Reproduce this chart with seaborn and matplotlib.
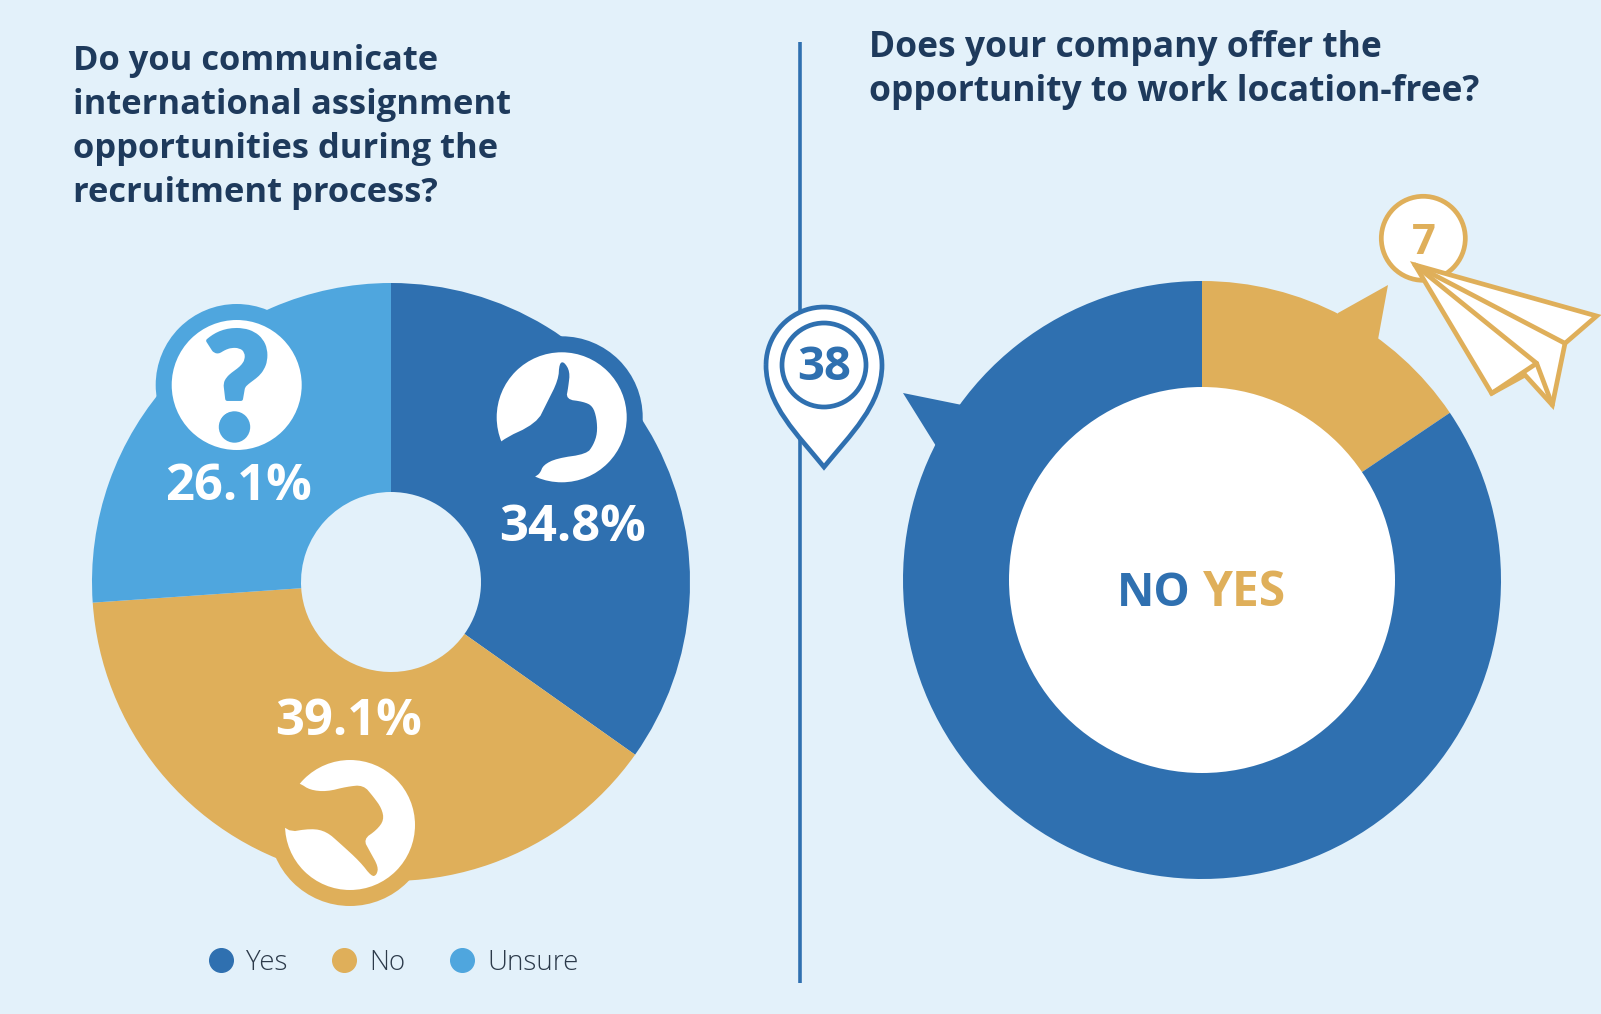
import numpy as np
import matplotlib.pyplot as plt
import matplotlib.patheffects as pe
from matplotlib.lines import Line2D
from matplotlib.patches import Circle, PathPatch, Polygon
from matplotlib.path import Path
import seaborn as sns


BLUE = "#2F70B0"
GOLD = "#DFAF5A"
SKY = "#4FA6DE"
BACKGROUND = "#E3F1FA"
NAVY = "#1E3A5C"
SLATE = "#2C3A4A"

LEFT_TITLE = ["Do you communicate", "international assignment", "opportunities during the", "recruitment process?"]
RIGHT_TITLE = ["Does your company offer the", "opportunity to work location-free?"]

LEFT_LABELS = ["Yes", "No", "Unsure"]
LEFT_VALUES = [34.8, 39.1, 26.1]
RIGHT_LABELS = ["YES", "NO"]
RIGHT_VALUES = [7, 38]

THUMB_UP = [(178, 422), (290, 370), (320, 310), (355, 240), (358, 190), (372, 185), (390, 215), (385, 260),
            (378, 298), (430, 305), (458, 318), (470, 355), (472, 400), (460, 435), (440, 462), (350, 475),
            (310, 495), (300, 520), (285, 530), (250, 560), (100, 500)]
THUMB_DOWN = [(120, 130), (150, 150), (200, 155), (260, 140), (310, 135), (340, 170), (365, 205), (372, 240),
              (350, 270), (310, 298), (330, 335), (355, 380), (350, 405), (335, 410), (300, 365), (240, 310),
              (200, 275), (155, 265), (75, 278), (40, 200), (80, 120)]
PLANE = [(285, 285), (830, 438), (735, 520), (697, 705), (615, 615), (515, 670)]


def from_crop(points, x0, y0):
    # crops were read at 3x
    return [(x0 + x / 3, y0 + y / 3) for x, y in points]


def smooth(points, rounds=2):
    # corner cutting, takes the edges off the hand outlines
    pts = np.array(points, dtype=float)
    for _ in range(rounds):
        nxt = np.roll(pts, -1, axis=0)
        pts = np.column_stack([0.75 * pts + 0.25 * nxt, 0.25 * pts + 0.75 * nxt]).reshape(-1, 2)
    return pts


def badge(ax, x, y, color, outer=81, inner=65):
    ax.add_patch(Circle((x, y), outer, color=color, lw=0, zorder=3))
    ax.add_patch(Circle((x, y), inner, color="white", lw=0, zorder=4))


sns.set_theme(style="white")
plt.rcParams["font.family"] = ["Open Sans", "DejaVu Sans"]

fig = plt.figure(figsize=(16.01, 10.14), dpi=100, facecolor=BACKGROUND)
ax = fig.add_axes([0, 0, 1, 1])

left_colors = sns.color_palette([BLUE, GOLD, SKY])
right_colors = sns.color_palette([GOLD, BLUE])

# y axis is flipped below, so counterclock here runs clockwise on screen
ax.pie(LEFT_VALUES, colors=left_colors, center=(391, 582), radius=299, startangle=-90, counterclock=True,
       wedgeprops={"width": 209, "linewidth": 0})
ax.pie(RIGHT_VALUES, colors=right_colors, center=(1202, 580), radius=299, startangle=-90, counterclock=True,
       wedgeprops={"linewidth": 0})
ax.set_xlim(0, 1601)
ax.set_ylim(1014, 0)
ax.axis("off")

ax.add_patch(Circle((1202, 580), 193, color="white", lw=0, zorder=2))

# speech bubble tails on the right ring
ax.add_patch(Polygon([(1388, 285), (1338, 313), (1330, 340), (1377, 345)], color=GOLD, lw=0, zorder=2))
ax.add_patch(Polygon([(903, 393), (962, 405), (975, 445), (936, 446)], color=BLUE, lw=0, zorder=2))

# left icons
badge(ax, 561.7, 417.3, BLUE)
ax.add_patch(Polygon(smooth(from_crop(THUMB_UP, 440, 300)), color=BLUE, lw=0, zorder=5))
badge(ax, 350, 825, GOLD)
ax.add_patch(Polygon(smooth(from_crop(THUMB_DOWN, 260, 740)), color=GOLD, lw=0, zorder=5))
badge(ax, 236.7, 385, SKY)
ax.text(237, 394, "?", color=SKY, ha="center", va="center", fontsize=104, fontweight="black", family="Lato",
        zorder=5, path_effects=[pe.withStroke(linewidth=3, foreground=SKY)])
ax.add_patch(Circle((234.5, 427), 15.7, color=SKY, lw=0, zorder=5))

# percentages
percent_xy = [(572, 528), (348, 722), (238, 487)]
for value, (x, y) in zip(LEFT_VALUES, percent_xy):
    ax.text(x, y, f"{value}%", color="white", ha="center", va="center", fontsize=36.5, fontweight="bold", zorder=6)

# titles
for i, line in enumerate(LEFT_TITLE):
    ax.text(73, 61 + i * 44, line, color=NAVY, ha="left", va="center", fontsize=24.8, fontweight="bold")
for i, line in enumerate(RIGHT_TITLE):
    ax.text(869, 48 + i * 44, line, color=NAVY, ha="left", va="center", fontsize=25.5, fontweight="bold")

# divider
ax.plot([800, 800], [42, 983], color=BLUE, lw=2.6, solid_capstyle="butt", zorder=1)

# location pin with 38
angles = np.linspace(np.pi, 2 * np.pi, 40)
pin = [(824 + 58 * np.cos(a), 365 + 58 * np.sin(a)) for a in angles]
pin_verts = pin + [(882, 405), (850, 435), (824, 467), (798, 435), (766, 405), pin[0]]
pin_codes = [Path.MOVETO] + [Path.LINETO] * 39 + [Path.CURVE4] * 6
ax.add_patch(PathPatch(Path(pin_verts, pin_codes), facecolor="white", edgecolor=BLUE, lw=3.4, joinstyle="miter", zorder=3))
ax.add_patch(Circle((824, 365), 42, facecolor="white", edgecolor=BLUE, lw=3.4, zorder=4))
ax.text(824, 368, str(RIGHT_VALUES[1]), color=BLUE, ha="center", va="center", fontsize=34, fontweight="bold", zorder=5)

# paper plane with 7
ax.add_patch(Circle((1423.3, 238.3), 42, facecolor="white", edgecolor=GOLD, lw=3.4, zorder=3))
ax.text(1423.5, 243, str(RIGHT_VALUES[0]), color=GOLD, ha="center", va="center", fontsize=30, fontweight="bold", zorder=4)
ax.add_patch(Polygon(from_crop(PLANE, 1320, 170), closed=True, facecolor="white", edgecolor=GOLD, lw=3.4, joinstyle="miter", zorder=5))
nose, fold, crease, tip, wing = from_crop([(285, 285), (735, 520), (650, 580), (697, 705), (515, 670)], 1320, 170)
ax.plot(*zip(nose, fold), color=GOLD, lw=3.4, zorder=6)
ax.plot(*zip(nose, crease, tip), color=GOLD, lw=3.4, zorder=6)
ax.plot(*zip(wing, crease), color=GOLD, lw=3.4, zorder=6)

# donut centre text
ax.text(1154, 594, RIGHT_LABELS[1], color=BLUE, ha="center", va="center", fontsize=33, fontweight="bold", zorder=5)
ax.text(1244.5, 594, RIGHT_LABELS[0], color=GOLD, ha="center", va="center", fontsize=34.5, fontweight="bold", zorder=5)

# legend
handles = [Line2D([], [], marker="o", ls="", ms=17, color=c, label=l) for c, l in zip(left_colors, LEFT_LABELS)]
ax.legend(handles=handles, ncol=3, frameon=False, loc="center left", bbox_to_anchor=(207, 963),
          bbox_transform=ax.transData, labelcolor=SLATE, handlelength=1, handletextpad=0.4, columnspacing=1.55,
          borderpad=0, borderaxespad=0, prop={"family": "Open Sans", "weight": "light", "size": 20})

fig.savefig("out.png", dpi=100, facecolor=BACKGROUND)
